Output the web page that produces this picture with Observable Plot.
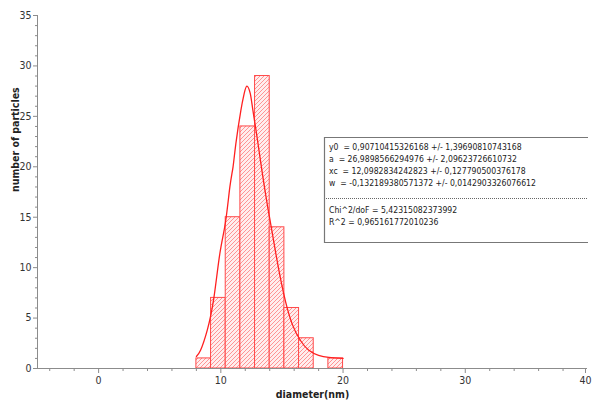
<!DOCTYPE html>
<html>
<head>
<meta charset="utf-8">
<script src="https://cdn.jsdelivr.net/npm/d3@7"></script>
<script src="https://cdn.jsdelivr.net/npm/@observablehq/plot@0.6"></script>
<style>
  html, body { margin: 0; padding: 0; background: #fff; }
  #chart { width: 592px; height: 403px; }
</style>
</head>
<body>
<svg width="0" height="0" style="position:absolute">
  <defs>
    <pattern id="hatchRed" patternUnits="userSpaceOnUse" width="4" height="4">
      <rect width="4" height="4" fill="#ffeeee" stroke="none"></rect>
      <path d="M-1,1 L1,-1 M0,4 L4,0 M3,5 L5,3" fill="none" stroke="#ff8484" stroke-width="0.85"></path>
    </pattern>
  </defs>
</svg>
<div id="chart"></div>
<script>
// Histogram bins (diameter, nm) and counts
const binEdges = [8, 9.2, 10.4, 11.6, 12.8, 14, 15.2, 16.4, 17.6, 18.8, 20];
const counts = [1, 7, 15, 24, 29, 14, 6, 3, 0, 1];

// Fitted curve, points
const curveX = [8.0, 8.34, 8.89, 9.43, 9.92, 10.38, 10.74, 11.0, 11.23, 11.64, 11.9, 12.13, 12.4, 12.6, 13.03, 13.44, 13.85, 14.07, 14.5, 14.9, 15.3, 15.84, 16.5, 17.2, 18.0, 18.84, 20.0];
const curveY = [1.2, 1.8, 3.8, 7.0, 11.4, 14.5, 18.0, 20.0, 22.3, 25.6, 27.2, 28.0, 27.3, 25.8, 22.4, 19.0, 15.9, 14.4, 11.4, 8.8, 6.6, 4.4, 2.8, 1.8, 1.3, 1.1, 1.0];

// Axis ticks
const xMajor = [0, 10, 20, 30];
const xLast = [40];
const xMinor = [-4, -2, 2, 4, 6, 8, 12, 14, 16, 18, 22, 24, 26, 28, 32, 34, 36, 38];
const yMajor = [0, 5, 10, 15, 20, 25, 30, 35];
const yMinor = d3.range(0, 36).filter(v => v % 5 !== 0);

// Fit results text
const fitLines = [
  "y0  = 0,90710415326168 +/- 1,39690810743168",
  "a  = 26,9898566294976 +/- 2,09623726610732",
  "xc  = 12,0982834242823 +/- 0,127790500376178",
  "w  = -0,132189380571372 +/- 0,0142903326076612"
];
const statLines = [
  "Chi^2/doF = 5,42315082373992",
  "R^2 = 0,965161772010236"
];

const bins = counts.map((c, i) => ({x1: binEdges[i], x2: binEdges[i + 1], y: c}));
const curve = curveX.map((x, i) => ({x, y: curveY[i]}));

const axisColor = "#8c8c8c";
const textColor = "#333";

const plot = Plot.plot({
  width: 592,
  height: 403,
  marginLeft: 37,
  marginRight: 5,
  marginTop: 15,
  marginBottom: 35,
  style: {fontFamily: "'DejaVu Sans Condensed', 'DejaVu Sans', sans-serif", fontSize: "11px", background: "#fff"},
  x: {domain: [-5, 40]},
  y: {domain: [0, 35]},
  marks: [
    Plot.rect(bins, {x1: "x1", x2: "x2", y1: 0, y2: "y", fill: "url(#hatchRed)", stroke: "#ff4a4a", strokeWidth: 1}),
    Plot.line(curve, {x: "x", y: "y", curve: "natural", stroke: "#ff2020", strokeWidth: 1.3}),
    Plot.ruleY([0], {stroke: axisColor}),
    Plot.ruleX([-5], {stroke: axisColor}),
    Plot.axisX(xMinor, {tickSize: 3, tickFormat: () => "", stroke: axisColor, label: null}),
    Plot.axisX(xMajor, {tickSize: 5, tickPadding: 3, stroke: axisColor, fill: textColor, label: null, fontSize: 10.5}),
    Plot.axisX(xLast, {tickSize: 5, tickPadding: 3, stroke: axisColor, fill: textColor, label: null, fontSize: 10.5, dx: -2}),
    Plot.axisY(yMinor, {tickSize: 2, tickFormat: () => "", stroke: axisColor, label: null}),
    Plot.axisY(yMajor, {tickSize: 4, tickPadding: 2, stroke: axisColor, fill: textColor, label: null, fontSize: 10.5}),
    Plot.text(["diameter(nm)"], {frameAnchor: "bottom", dy: 29, fontWeight: "bold", fontSize: 10.5, fill: "#222"}),
    Plot.text(["number of particles"], {frameAnchor: "left", dx: -22, rotate: -90, fontWeight: "bold", fontSize: 10.5, fill: "#222"})
  ]
});

const svg = d3.select(plot);

// Fit results box
const box = svg.append("g").attr("class", "fitbox").attr("text-anchor", "start");
box.append("rect").attr("x", 324.5).attr("y", 137.5).attr("width", 264).attr("height", 105).attr("fill", "#fff").attr("stroke", "none");
box.append("path").attr("d", "M588,137.5 H324.5 V242.5 H588").attr("fill", "none").attr("stroke", "#777").attr("stroke-width", 1.2);
box.append("line").attr("x1", 326).attr("x2", 587).attr("y1", 198.5).attr("y2", 198.5)
  .attr("stroke", "#666").attr("stroke-dasharray", "1,1");
const tf = "'DejaVu Sans Condensed', 'DejaVu Sans', sans-serif";
const ys1 = [147, 159, 171, 183];
fitLines.forEach((t, i) => {
  box.append("text").attr("x", 329).attr("y", ys1[i]).attr("dy", "0.35em")
    .attr("text-anchor", "start")
    .attr("font-family", tf).attr("font-size", 8.6).attr("fill", "#222")
    .style("white-space", "pre").text(t);
});
const ys2 = [210, 222];
statLines.forEach((t, i) => {
  box.append("text").attr("x", 329).attr("y", ys2[i]).attr("dy", "0.35em")
    .attr("text-anchor", "start")
    .attr("font-family", tf).attr("font-size", 8.6).attr("fill", "#222")
    .style("white-space", "pre").text(t);
});

document.getElementById("chart").appendChild(plot);
</script>
</body>
</html>
